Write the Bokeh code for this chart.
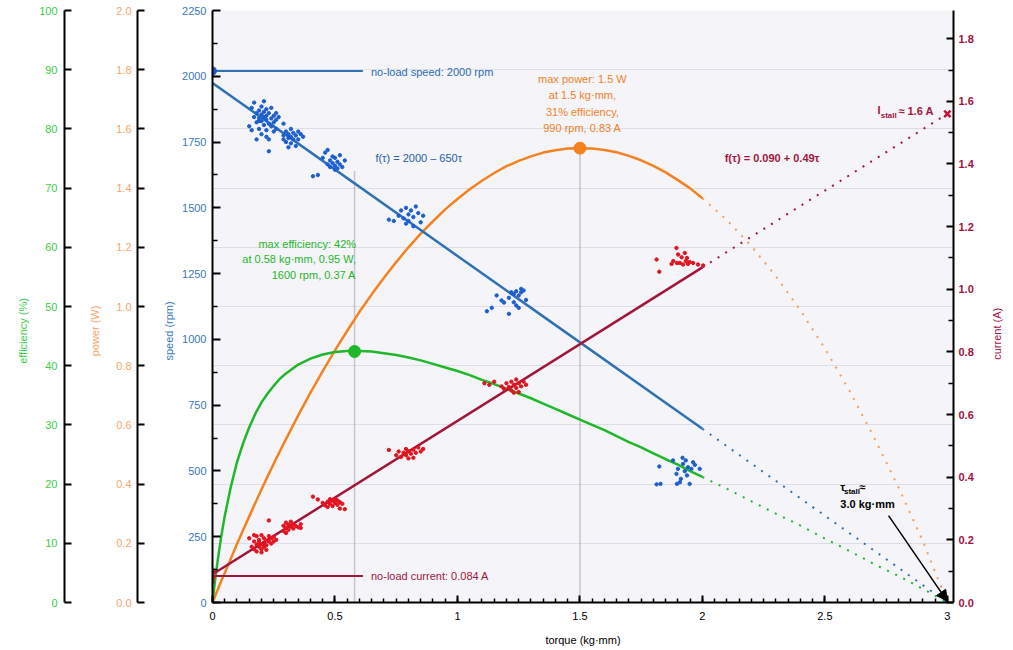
import math
from bokeh.plotting import figure
from bokeh.models import (Range1d, LinearAxis, FixedTicker, Grid, Label, Arrow,
                          NormalHead, NumeralTickFormatter)
from bokeh.embed import file_html
from bokeh.resources import INLINE

FONT = "Liberation Sans"

# ---------------- data ----------------
torque_ticks = [0, 0.5, 1, 1.5, 2, 2.5, 3]
torque_minor = [i / 20 for i in range(61)]
speed_ticks = [0, 250, 500, 750, 1000, 1250, 1500, 1750, 2000, 2250]
speed_minor = [125, 375, 625, 875, 1125, 1375, 1625, 1875, 2125]
eff_ticks = [0, 10, 20, 30, 40, 50, 60, 70, 80, 90, 100]
power_ticks = [0.0, 0.2, 0.4, 0.6, 0.8, 1.0, 1.2, 1.4, 1.6, 1.8, 2.0]
current_ticks = [0.0, 0.2, 0.4, 0.6, 0.8, 1.0, 1.2, 1.4, 1.6, 1.8]
current_minor = [0.1, 0.3, 0.5, 0.7, 0.9, 1.1, 1.3, 1.5, 1.7]

# fitted lines (solid part, measured range) and extrapolation (dotted)
fit_torque = [0.0, 2.0]
fit_speed = [1974, 660]
fit_current = [0.09, 1.07]
ext_torque = [2.0, 3.0]
ext_speed = [660, 0]
ext_current = [1.07, 1.56]

curve_torque = [0, 0.005, 0.01, 0.02, 0.035, 0.05, 0.075, 0.1, 0.125, 0.15, 0.175,
                0.2, 0.225, 0.25, 0.275, 0.3, 0.35, 0.4, 0.45, 0.5, 0.55, 0.6, 0.65,
                0.7, 0.75, 0.8, 0.85, 0.9, 0.95, 1.0, 1.05, 1.1, 1.15, 1.2, 1.25, 1.3,
                1.35, 1.4, 1.45, 1.5, 1.55, 1.6, 1.65, 1.7, 1.75, 1.8, 1.85, 1.9, 1.95,
                2.0]
power_curve = [0, 0.010, 0.020, 0.041, 0.071, 0.100, 0.149, 0.198, 0.245, 0.291, 0.337,
               0.382, 0.426, 0.469, 0.511, 0.552, 0.632, 0.709, 0.782, 0.852, 0.918,
               0.982, 1.041, 1.097, 1.150, 1.200, 1.246, 1.288, 1.328, 1.363, 1.396,
               1.425, 1.451, 1.474, 1.492, 1.507, 1.520, 1.528, 1.534, 1.535, 1.534,
               1.529, 1.521, 1.509, 1.494, 1.475, 1.453, 1.427, 1.399, 1.366]
eff_curve = [0, 1.8, 3.6, 6.7, 11.0, 14.6, 19.6, 23.7, 26.9, 29.6, 31.9,
             33.8, 35.3, 36.6, 37.8, 38.7, 40.2, 41.2, 41.9, 42.3, 42.5,
             42.5, 42.4, 42.1, 41.8, 41.4, 40.9, 40.3, 39.7, 39.1, 38.4,
             37.6, 36.9, 36.1, 35.3, 34.5, 33.6, 32.7, 31.8, 30.9, 30.0,
             29.1, 28.1, 27.1, 26.2, 25.2, 24.2, 23.3, 22.2, 21.2]
ext_curve_torque = [2.0, 2.1, 2.2, 2.3, 2.4, 2.5, 2.6, 2.7, 2.8, 2.9, 3.0]
power_ext = [1.366, 1.292, 1.204, 1.102, 0.987, 0.858, 0.716, 0.559, 0.390, 0.207, 0.0]
eff_ext = [21.2, 19.2, 17.1, 15.0, 13.0, 10.8, 8.7, 6.5, 4.5, 2.3, 0.0]

# measured samples
speed_sample_torque = [
    0.15, 0.16, 0.17, 0.17, 0.18, 0.18, 0.19, 0.19, 0.19, 0.20, 0.20, 0.20, 0.20, 0.21,
    0.21, 0.21, 0.22, 0.22, 0.22, 0.22, 0.23, 0.23, 0.23, 0.24, 0.24, 0.24, 0.25, 0.25,
    0.25, 0.26, 0.26, 0.27, 0.23, 0.16, 0.18, 0.21, 0.26, 0.19, 0.22,
    0.29, 0.29, 0.30, 0.30, 0.31, 0.31, 0.32, 0.32, 0.32, 0.33, 0.33, 0.34, 0.34, 0.35,
    0.35, 0.36, 0.37, 0.29, 0.31,
    0.41, 0.43, 0.45, 0.46, 0.47, 0.48, 0.48, 0.49, 0.49, 0.50, 0.50, 0.51, 0.51, 0.52,
    0.52, 0.53, 0.54, 0.50, 0.47,
    0.72, 0.74, 0.76, 0.77, 0.78, 0.79, 0.80, 0.80, 0.81, 0.82, 0.83, 0.84, 0.85, 0.86,
    0.79, 0.82,
    1.12, 1.14, 1.16, 1.18, 1.21, 1.21, 1.22, 1.23, 1.24, 1.24, 1.25, 1.26, 1.26, 1.27,
    1.28, 1.23, 1.25, 1.19,
    1.824, 1.813, 1.829, 1.88, 1.894, 1.90, 1.908, 1.912, 1.919, 1.921, 1.928, 1.932,
    1.937, 1.941, 1.948, 1.955, 1.962, 1.969, 1.989, 1.896,
    0.0, 0.0, 0.0, 0.002, 0.0]
speed_sample_rpm = [
    1810, 1880, 1900, 1845, 1860, 1825, 1870, 1840, 1800, 1885, 1855, 1830, 1780, 1865,
    1845, 1815, 1875, 1850, 1835, 1795, 1860, 1820, 1760, 1880, 1840, 1810, 1850, 1825,
    1790, 1835, 1800, 1845, 1715, 1795, 1760, 1905, 1860, 1830, 1770,
    1775, 1760, 1790, 1750, 1780, 1765, 1800, 1770, 1745, 1785, 1760, 1775, 1735, 1790,
    1760, 1780, 1770, 1820, 1730,
    1620, 1625, 1690, 1710, 1665, 1680, 1655, 1695, 1670, 1660, 1690, 1650, 1675, 1700,
    1665, 1655, 1680, 1645, 1720,
    1455, 1450, 1470, 1490, 1460, 1500, 1475, 1450, 1490, 1465, 1505, 1480, 1445, 1470,
    1440, 1430,
    1107, 1120, 1167, 1148, 1097, 1158, 1179, 1141, 1129, 1183, 1120, 1192, 1179, 1186,
    1150, 1173, 1167, 1140,
    517, 449, 451, 540, 489, 508, 457, 470, 550, 527, 499, 540, 483, 514, 451, 508, 533,
    523, 508, 451,
    2010, 2020, 2030, 2015, 2025]

current_sample_torque = [
    0.15, 0.16, 0.17, 0.17, 0.18, 0.18, 0.18, 0.19, 0.19, 0.19, 0.20, 0.20, 0.20, 0.21,
    0.21, 0.21, 0.22, 0.22, 0.23, 0.23, 0.23, 0.24, 0.24, 0.25, 0.25, 0.26, 0.20, 0.17, 0.22,
    0.29, 0.29, 0.30, 0.30, 0.31, 0.31, 0.32, 0.33, 0.33, 0.34, 0.35, 0.36, 0.36, 0.30, 0.32,
    0.41, 0.43, 0.45, 0.46, 0.47, 0.47, 0.48, 0.49, 0.49, 0.50, 0.50, 0.51, 0.52, 0.52,
    0.53, 0.54, 0.51, 0.48,
    0.72, 0.75, 0.76, 0.77, 0.78, 0.79, 0.79, 0.80, 0.81, 0.82, 0.82, 0.83, 0.84, 0.85,
    0.86, 0.80,
    1.11, 1.13, 1.15, 1.18, 1.19, 1.20, 1.21, 1.22, 1.22, 1.23, 1.24, 1.24, 1.25, 1.25,
    1.26, 1.27, 1.28, 1.23,
    1.813, 1.824, 1.874, 1.881, 1.894, 1.901, 1.908, 1.915, 1.921, 1.928, 1.932, 1.937,
    1.941, 1.948, 1.962, 1.982, 2.003, 1.896,
    0.0, 0.0, 0.0, 0.0, 0.003, 0.003, 0.0]
current_sample_amp = [
    0.205, 0.178, 0.195, 0.170, 0.212, 0.185, 0.163, 0.200, 0.178, 0.192, 0.215, 0.186,
    0.170, 0.205, 0.190, 0.178, 0.198, 0.183, 0.212, 0.195, 0.262, 0.205, 0.188, 0.210,
    0.195, 0.200, 0.160, 0.215, 0.168,
    0.245, 0.228, 0.255, 0.238, 0.248, 0.232, 0.242, 0.250, 0.236, 0.244, 0.240, 0.238,
    0.250, 0.222, 0.258,
    0.338, 0.329, 0.318, 0.310, 0.322, 0.305, 0.315, 0.325, 0.308, 0.318, 0.330, 0.312,
    0.320, 0.300, 0.315, 0.298, 0.326, 0.330,
    0.487, 0.470, 0.482, 0.465, 0.478, 0.490, 0.470, 0.483, 0.475, 0.462, 0.488, 0.478,
    0.495, 0.482, 0.490, 0.460,
    0.700, 0.695, 0.705, 0.690, 0.682, 0.700, 0.688, 0.705, 0.677, 0.695, 0.712, 0.685,
    0.700, 0.672, 0.690, 0.705, 0.695, 0.670,
    1.095, 1.056, 1.081, 1.090, 1.132, 1.111, 1.084, 1.102, 1.079, 1.116, 1.090, 1.100,
    1.081, 1.087, 1.084, 1.079, 1.076, 1.084,
    0.075, 0.085, 0.095, 0.105, 0.080, 0.100, 0.065]

noload_speed = 2020
noload_current = 0.085
noload_line_torque = [0.0, 0.614]
max_eff_point = (0.58, 42.4)
max_power_point = (1.5, 1.535)
stall_point = (3.0, 1.56)
eff_guide_top_speed = 1640
current_title_at = 0.775

# ---------------- colours ----------------
C_BLUE = "#2f72b4"
C_BLUE_PT = "#1d5fcf"
C_RED = "#a3163c"
C_RED_PT = "#e3141f"
C_ORANGE = "#f5821f"
C_GREEN = "#1fb82a"
C_GRID = "#dedee6"
C_EFF_T = "#3ccb4a"
C_POW_T = "#f3a76a"
C_SPD_T = "#3b78b9"
C_CUR_T = "#a3123f"

PAD = "\u00a0" * 16

p = figure(width=1013, height=650, x_range=Range1d(0, 3.025), y_range=Range1d(0, 2250),
           output_backend="svg", toolbar_location=None,
           min_border_left=212, min_border_right=60, min_border_top=10,
           min_border_bottom=48,
           background_fill_color="#f4f4f9", border_fill_color="white",
           outline_line_color=None)
p.extra_y_ranges = {"eff": Range1d(0, 100), "pow": Range1d(0, 2.0),
                    "cur": Range1d(0, 1.89)}
p.xgrid.visible = False
p.ygrid.visible = False


def style_axis(ax, color, tick_in=7, minor_in=0, standoff=6, bold=False):
    ax.axis_line_color = "black"
    ax.axis_line_width = 2
    ax.major_tick_line_color = "black"
    ax.major_tick_line_width = 2
    ax.minor_tick_line_color = "black"
    ax.minor_tick_line_width = 1.5
    ax.major_tick_in = tick_in
    ax.major_tick_out = 0
    ax.minor_tick_in = minor_in
    ax.minor_tick_out = 0
    ax.major_label_standoff = standoff
    ax.major_label_text_color = color
    ax.major_label_text_font = FONT
    ax.major_label_text_font_size = "11px"
    ax.major_label_text_font_style = "bold" if bold else "normal"


def style_title(ax, text, color, standoff):
    ax.axis_label = text
    ax.axis_label_text_color = color
    ax.axis_label_text_font = FONT
    ax.axis_label_text_font_size = "11px"
    ax.axis_label_text_font_style = "normal"
    ax.axis_label_standoff = standoff


# speed axis (innermost left)
ya = p.yaxis[0]
ya.ticker = FixedTicker(ticks=speed_ticks, minor_ticks=speed_minor)
style_axis(ya, C_SPD_T, tick_in=8, minor_in=5, standoff=6)
style_title(ya, "speed (rpm)" + PAD, C_SPD_T, 4)


def spacer(n):
    return LinearAxis(y_range_name="eff", ticker=FixedTicker(ticks=[50]),
                      axis_line_color=None, major_tick_line_color=None,
                      minor_tick_line_color=None, major_tick_in=0, major_tick_out=n,
                      minor_tick_out=0, major_label_standoff=0,
                      major_label_text_font_size="1px", major_label_text_color=None)


p.add_layout(spacer(23), "left")
pax = LinearAxis(y_range_name="pow", ticker=FixedTicker(ticks=power_ticks),
                 formatter=NumeralTickFormatter(format="0.0"))
style_axis(pax, C_POW_T, standoff=6)
style_title(pax, "power (W)" + PAD, C_POW_T, 12)
p.add_layout(pax, "left")
p.add_layout(spacer(22), "left")
eax = LinearAxis(y_range_name="eff", ticker=FixedTicker(ticks=eff_ticks))
style_axis(eax, C_EFF_T, standoff=7)
style_title(eax, "efficiency (%)" + PAD, C_EFF_T, 7)
p.add_layout(eax, "left")

# current axis (right)
cax = LinearAxis(y_range_name="cur",
                 ticker=FixedTicker(ticks=current_ticks, minor_ticks=current_minor),
                 formatter=NumeralTickFormatter(format="0.0"))
style_axis(cax, C_CUR_T, tick_in=7, minor_in=5, standoff=5, bold=True)
p.add_layout(cax, "right")

# current title, drawn as a rotated single tick label so it reads bottom-to-top
ctitle = LinearAxis(y_range_name="cur", ticker=FixedTicker(ticks=[current_title_at]),
                    major_label_overrides={current_title_at: "current (A)"},
                    major_label_orientation=math.pi / 2,
                    axis_line_color=None, major_tick_line_color=None,
                    minor_tick_line_color=None, major_tick_in=0, major_tick_out=0,
                    minor_tick_out=0, major_label_standoff=21,
                    major_label_text_color=C_CUR_T, major_label_text_font=FONT,
                    major_label_text_font_size="11px")
p.add_layout(ctitle, "right")

# torque axis
xa = p.xaxis[0]
xa.ticker = FixedTicker(ticks=torque_ticks, minor_ticks=torque_minor)
xa.formatter = NumeralTickFormatter(format="0.[0]")
style_axis(xa, "black", tick_in=7, minor_in=4, standoff=9)
style_title(xa, "torque (kg·mm)", "black", 11)

# horizontal grid at efficiency ticks
p.add_layout(Grid(dimension=1, ticker=FixedTicker(ticks=eff_ticks[1:-1]),
                  y_range_name="eff", grid_line_color=C_GRID, grid_line_width=1))

# guide lines
p.line([max_eff_point[0]] * 2, [0, eff_guide_top_speed], line_color="#9a9a9a",
       line_width=1.5, line_dash="1 1")
p.line([max_power_point[0]] * 2, [0, max_power_point[1]], y_range_name="pow",
       line_color="#9a9a9a", line_width=1.5, line_dash="1 1")

# curves
p.line(curve_torque, power_curve, y_range_name="pow", line_color=C_ORANGE, line_width=2.5)
p.line(ext_curve_torque, power_ext, y_range_name="pow", line_color=C_ORANGE,
       line_width=2, line_dash="2 7", line_alpha=0.75)
p.line(curve_torque, eff_curve, y_range_name="eff", line_color=C_GREEN, line_width=2.5)
p.line(ext_curve_torque, eff_ext, y_range_name="eff", line_color=C_GREEN,
       line_width=2, line_dash="2 7")
p.line(fit_torque, fit_speed, line_color=C_BLUE, line_width=2.5)
p.line(ext_torque, ext_speed, line_color=C_BLUE, line_width=2, line_dash="2 7")
p.line(fit_torque, fit_current, y_range_name="cur", line_color=C_RED, line_width=2.5)
p.line(ext_torque, ext_current, y_range_name="cur", line_color=C_RED,
       line_width=2, line_dash="2 7")

# no-load reference lines
p.line(noload_line_torque, [noload_speed] * 2, line_color=C_BLUE, line_width=2)
p.scatter([0], [noload_speed], size=8, color=C_BLUE_PT)
p.line(noload_line_torque, [noload_current] * 2, y_range_name="cur",
       line_color=C_RED, line_width=2)

# samples
p.scatter(speed_sample_torque, speed_sample_rpm, size=3.4, color=C_BLUE_PT)
p.scatter(current_sample_torque, current_sample_amp, y_range_name="cur", size=3.4,
          color=C_RED_PT)

# key points
p.scatter([max_eff_point[0]], [max_eff_point[1]], y_range_name="eff", size=12,
          color=C_GREEN)
p.scatter([max_power_point[0]], [max_power_point[1]], y_range_name="pow", size=12,
          color=C_ORANGE)
p.scatter([stall_point[0]], [stall_point[1]], y_range_name="cur", marker="x",
          size=9, line_width=2.5, color="#c8103c")

p.add_layout(Arrow(end=NormalHead(size=11, fill_color="black", line_color="black"),
                   x_start=2.76, y_start=330, x_end=3.0, y_end=4,
                   line_color="black", line_width=1.5))


def label(text, x, y, color, align="left", size="11px", style="normal"):
    p.add_layout(Label(x=x, y=y, text=text, text_color=color, text_align=align,
                       text_baseline="middle", text_font=FONT, text_font_size=size,
                       text_font_style=style))


label("no-load speed: 2000 rpm", 0.647, 2018, "#2c6db5")
label("f(τ) = 2000 – 650τ", 0.665, 1688, "#2a5ea8")
label("max power: 1.5 W", 1.51, 1988, C_ORANGE, align="center")
label("at 1.5 kg·mm,", 1.51, 1927, C_ORANGE, align="center")
label("31% efficiency,", 1.51, 1865, C_ORANGE, align="center")
label("990 rpm, 0.83 A", 1.51, 1802, C_ORANGE, align="center")
label("f(τ) = 0.090 + 0.49τ", 2.091, 1688, C_RED, style="bold")
label("I", 2.715, 1870, C_RED, style="bold")
label("stall", 2.728, 1852, C_RED, size="8px", style="bold")
label("≈ 1.6 A", 2.8, 1868, C_RED, style="bold")
label("max efficiency: 42%", 0.586, 1364, C_GREEN, align="right")
label("at 0.58 kg·mm, 0.95 W,", 0.586, 1304, C_GREEN, align="right")
label("1600 rpm, 0.37 A", 0.586, 1243, C_GREEN, align="right")
label("no-load current: 0.084 A", 0.647, 99, C_RED)
label("τ", 2.563, 438, "black", style="bold")
label("stall", 2.578, 420, "black", size="8px", style="bold")
label("≈", 2.64, 440, "black", style="bold")
label("3.0 kg·mm", 2.563, 375, "black", style="bold")

open("out.html", "w").write(file_html(p, INLINE))
